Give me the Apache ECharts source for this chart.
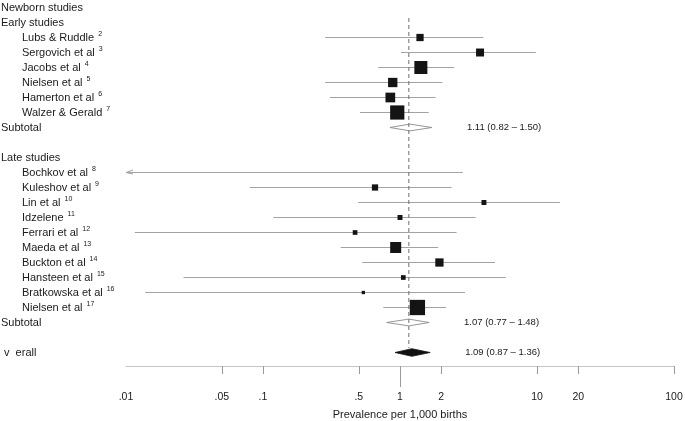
<!DOCTYPE html>
<html><head><meta charset="utf-8">
<script src="https://cdn.jsdelivr.net/npm/echarts@6/dist/echarts.min.js"></script>
<style>html,body{margin:0;padding:0;background:#fff}#c{width:685px;height:421px}</style>
</head><body><div id="c"></div>
<script>
const FONT = '"Liberation Sans", Arial, Helvetica, sans-serif';

// ---- data ----
const sectionTitle = 'Newborn studies';
const earlyTitle = 'Early studies';
const lateTitle = 'Late studies';
const subtotalTitle = 'Subtotal';
const overallTitle = 'v  erall';

const earlyStudies = ['Lubs & Ruddle', 'Sergovich et al', 'Jacobs et al', 'Nielsen et al', 'Hamerton et al', 'Walzer & Gerald'];
const earlyRefs    = ['2', '3', '4', '5', '6', '7'];
const earlyEst     = [1.40, 3.84, 1.42, 0.885, 0.85, 0.955];
const earlyLo      = [0.284, 1.017, 0.694, 0.284, 0.308, 0.51];
const earlyHi      = [4.06, 9.8, 2.49, 2.04, 1.82, 1.62];
const earlyWeight  = [4.3, 5.2, 13.8, 7.1, 7.7, 16.5];

const lateStudies = ['Bochkov et al', 'Kuleshov et al', 'Lin et al', 'Idzelene', 'Ferrari et al', 'Maeda et al', 'Buckton et al', 'Hansteen et al', 'Bratkowska et al', 'Nielsen et al'];
const lateRefs    = ['8', '9', '10', '11', '12', '13', '14', '15', '16', '17'];
const lateEst     = [null, 0.657, 4.10, 1.0, 0.47, 0.93, 1.94, 1.057, 0.54, 1.34];
const lateLo      = [0.005, 0.080, 0.496, 0.119, 0.0116, 0.369, 0.53, 0.0263, 0.0138, 0.755];
const lateHi      = [2.88, 2.38, 14.7, 3.57, 2.59, 1.90, 4.94, 5.91, 2.98, 2.17];
const lateWeight  = [0, 3.2, 2.0, 2.0, 1.8, 9.9, 5.6, 1.8, 0.9, 19.1];

// pooled estimates (as drawn), label texts
const summaryEst    = [1.18, 1.16, 1.22];
const summaryLo     = [0.845, 0.80, 0.92];
const summaryHi     = [1.71, 1.63, 1.66];
const summaryFilled = [false, false, true];
const summaryLabels = ['1.11 (0.82 \u2013 1.50)', '1.07 (0.77 \u2013 1.48)', '1.09 (0.87 \u2013 1.36)'];
const referenceLine = 1.16;

const tickValues  = [0.05, 0.1, 0.5, 1, 2, 10, 20, 100];
const labelValues = [0.01, 0.05, 0.1, 0.5, 1, 2, 10, 20, 100];
const tickLabels  = ['.01', '.05', '.1', '.5', '1', '2', '10', '20', '100'];
const axisTitle = 'Prevalence per 1,000 births';

// ---- build rows ----
const rows = [];
rows.push({ kind: 'head', text: sectionTitle });
rows.push({ kind: 'head', text: earlyTitle });
const studyItems = [];
earlyStudies.forEach((n, i) => {
  studyItems.push([earlyLo[i], earlyHi[i], earlyEst[i] == null ? NaN : earlyEst[i], earlyWeight[i], rows.length]);
  rows.push({ kind: 'study', text: n, ref: earlyRefs[i] });
});
const summaryRows = [];
summaryRows.push(rows.length);
rows.push({ kind: 'head', text: subtotalTitle });
rows.push({ kind: 'blank', text: '' });
rows.push({ kind: 'head', text: lateTitle });
lateStudies.forEach((n, i) => {
  studyItems.push([lateLo[i], lateHi[i], lateEst[i] == null ? NaN : lateEst[i], lateWeight[i], rows.length]);
  rows.push({ kind: 'study', text: n, ref: lateRefs[i] });
});
summaryRows.push(rows.length);
rows.push({ kind: 'head', text: subtotalTitle });
rows.push({ kind: 'blank', text: '' });
summaryRows.push(rows.length);
rows.push({ kind: 'overall', text: overallTitle });

const summaryItems = summaryEst.map((e, i) => [summaryLo[i], summaryHi[i], e, summaryRows[i], summaryFilled[i] ? 1 : 0, i]);

const X_MIN = 0.01, X_MAX = 100;
const chart = echarts.init(document.getElementById('c'), null, { renderer: 'canvas' });

function esc(s) { return s.replace(/[{}|]/g, ''); }

chart.setOption({
  animation: false,
  backgroundColor: '#fff',
  textStyle: { fontFamily: FONT },
  grid: { left: 126, right: 11, top: 0, height: 360, containLabel: false, outerBoundsMode: 'none' },
  xAxis: [{
    type: 'log', logBase: 10, min: X_MIN, max: X_MAX, position: 'bottom', offset: 6,
    axisLine: { show: true, lineStyle: { color: '#c4c4c4', width: 1 } },
    axisTick: { show: true, customValues: tickValues, length: 8, lineStyle: { color: '#9a9a9a' } },
    axisLabel: {
      customValues: labelValues, margin: 26, fontSize: 10.5, color: '#1a1a1a', fontFamily: FONT,
      showMinLabel: true, showMaxLabel: true,
      formatter: function (v) {
        for (let i = 0; i < labelValues.length; i++) {
          if (Math.abs(Math.log10(v) - Math.log10(labelValues[i])) < 1e-6) return tickLabels[i];
        }
        return '';
      }
    },
    splitLine: { show: false }, minorTick: { show: false },
    name: axisTitle, nameLocation: 'middle', nameGap: 43,
    nameTextStyle: { fontSize: 11, color: '#1a1a1a', fontFamily: FONT }
  }, {
    type: 'log', logBase: 10, min: X_MIN, max: X_MAX, position: 'bottom', offset: 6,
    axisLine: { show: false },
    axisTick: { show: true, customValues: [1], length: 21, lineStyle: { color: '#9a9a9a' } },
    axisLabel: { show: false }, splitLine: { show: false }
  }],
  yAxis: {
    type: 'category', inverse: true, data: rows.map((r, i) => 'r' + i),
    axisLine: { show: false }, axisTick: { show: false }, splitLine: { show: false },
    axisLabel: {
      interval: 0, align: 'left', margin: 125, color: '#1a1a1a', fontFamily: FONT,
      formatter: function (v, idx) {
        const r = rows[idx];
        if (!r) return '';
        if (r.kind === 'blank') return '';
        if (r.kind === 'head') return '{h|' + esc(r.text) + '}';
        if (r.kind === 'overall') return '{ov|' + esc(r.text) + '}';
        return '{ind|}{n|' + esc(r.text) + '}{sup|' + r.ref + '}';
      },
      rich: {
        h: { fontSize: 11, color: '#1a1a1a', fontFamily: FONT, lineHeight: 13 },
        n: { fontSize: 11, color: '#1a1a1a', fontFamily: FONT, lineHeight: 13 },
        ov: { fontSize: 11, color: '#1a1a1a', fontFamily: FONT, lineHeight: 13, padding: [0, 0, 0, 3] },
        ind: { width: 21, fontSize: 11, lineHeight: 13 },
        sup: { fontSize: 7, color: '#1a1a1a', fontFamily: FONT, verticalAlign: 'top', lineHeight: 8, padding: [0, 0, 0, 4] }
      }
    }
  },
  series: [{
    type: 'custom', name: 'studies', xAxisIndex: 0, yAxisIndex: 0, clip: false,
    encode: { x: [0, 1, 2], y: 4 },
    data: studyItems,
    renderItem: function (params, api) {
      const lo = api.value(0), hi = api.value(1), est = api.value(2), w = api.value(3), row = api.value(4);
      const y = api.coord([1, row])[1];
      const xl = api.coord([Math.max(lo, X_MIN), row])[0];
      const xh = api.coord([Math.min(hi, X_MAX), row])[0];
      const ch = [{ type: 'line', shape: { x1: xl, y1: y, x2: xh, y2: y }, style: { stroke: '#a3a3a3', lineWidth: 1 } }];
      if (lo < X_MIN) {
        ch.push({ type: 'polyline', shape: { points: [[xl + 7, y - 2.5], [xl, y], [xl + 7, y + 1.5]] }, style: { stroke: '#a3a3a3', fill: null, lineWidth: 1 } });
      }
      if (!isNaN(est) && w > 0) {
        const s = 3.5 * Math.sqrt(w);
        const cx = api.coord([est, row])[0];
        ch.push({ type: 'rect', shape: { x: cx - s / 2, y: y - s / 2, width: s, height: s }, style: { fill: '#141414' } });
      }
      return { type: 'group', children: ch };
    }
  }, {
    type: 'custom', name: 'pooled', xAxisIndex: 0, yAxisIndex: 0, clip: false,
    encode: { x: [0, 1, 2], y: 3 },
    data: summaryItems,
    renderItem: function (params, api) {
      const lo = api.value(0), hi = api.value(1), est = api.value(2), row = api.value(3), filled = api.value(4), li = api.value(5);
      const y = api.coord([1, row])[1];
      const xl = api.coord([lo, row])[0], xh = api.coord([hi, row])[0], xe = api.coord([est, row])[0];
      const h = filled ? 3.8 : 3.4;
      return {
        type: 'group', children: [{
          type: 'polygon', shape: { points: [[xl, y], [xe, y - h], [xh, y], [xe, y + h]] },
          style: filled ? { fill: '#111', stroke: '#111', lineWidth: 0.8 } : { fill: '#fff', stroke: '#8a8a8a', lineWidth: 0.9 }
        }, {
          type: 'text', x: xh + 35, y: y,
          style: { text: summaryLabels[li], fill: '#1a1a1a', font: '9.5px ' + FONT, textAlign: 'left', textVerticalAlign: 'middle' }
        }]
      };
    }
  }, {
    type: 'custom', name: 'reference', xAxisIndex: 0, yAxisIndex: 0, clip: false, z: 5,
    encode: { x: 0 },
    data: [[referenceLine, 1, rows.length - 1]],
    renderItem: function (params, api) {
      const x = api.coord([api.value(0), 0])[0];
      const y1 = api.coord([1, api.value(1)])[1] - 4.5;
      const y2 = api.coord([1, api.value(2)])[1] - 4.5;
      return { type: 'line', shape: { x1: x, y1: y1, x2: x, y2: y2 }, style: { stroke: '#6e6e6e', lineWidth: 1, lineDash: [4, 3] } };
    }
  }]
});
</script>
</body></html>
